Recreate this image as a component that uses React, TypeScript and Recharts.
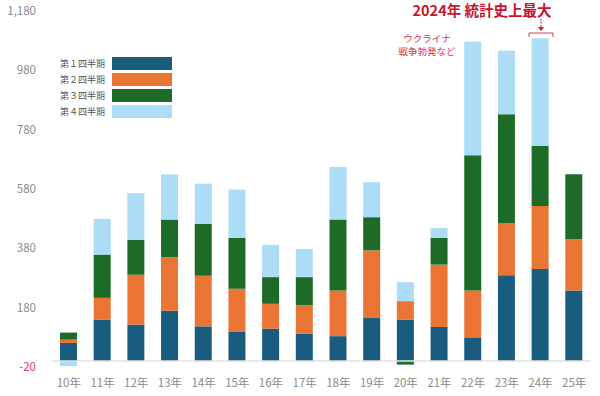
import React from "react";
import { BarChart, Bar, XAxis, YAxis, ReferenceLine } from "recharts";

const categories = ["10年", "11年", "12年", "13年", "14年", "15年", "16年", "17年", "18年", "19年", "20年", "21年", "22年", "23年", "24年", "25年"];
const q1 = [61, 140, 123, 170, 117, 100, 109, 93, 84, 145, 140, 115, 80, 289, 310, 238];
const q2 = [11, 73, 168, 180, 171, 144, 84, 95, 154, 228, 62, 210, 158, 176, 213, 173];
const q3 = [24, 146, 118, 127, 174, 171, 90, 95, 239, 112, -12, 90, 456, 367, 202, 219];
const q4 = [-17, 120, 157, 152, 136, 163, 109, 95, 177, 118, 64, 34, 382, 214, 363, 0];
const seriesNames = ["第１四半期", "第２四半期", "第３四半期", "第４四半期"];
const yTicks = [-20, 180, 380, 580, 780, 980, 1180];

const colors = ["#195c7d", "#ea7434", "#1d6b27", "#acdcf6"];
const FONT = "'Noto Sans CJK JP', 'Noto Sans', sans-serif";

const data = categories.map((c, i) => ({ name: c, q1: q1[i], q2: q2[i], q3: q3[i], q4: q4[i] }));

const YTick = (props: any) => {
  const { x, y, payload } = props;
  const v = payload.value as number;
  const label = v.toLocaleString("en-US");
  return (
    <text x={x} y={y} dy="0.355em" textAnchor="end" fontSize={11.5} fontFamily={FONT} fill={v < 0 ? "#e0405a" : "#8a8a8a"}>
      {label}
    </text>
  );
};

export default function App() {
  return (
    <div style={{ position: "absolute", left: 0, top: 0, width: 600, height: 396, background: "#fff" }}>
      <BarChart
        width={600}
        height={396}
        data={data}
        stackOffset="sign"
        margin={{ top: 11, right: 9, bottom: 9, left: 0 }}
      >
        <XAxis
          dataKey="name"
          axisLine={false}
          tickLine={false}
          tickMargin={6}
          height={20}
          tick={{ fontSize: 11.5, fill: "#8a8a8a", fontFamily: FONT }}
          interval={0}
        />
        <YAxis
          domain={[-20, 1180]}
          ticks={yTicks}
          axisLine={false}
          tickLine={false}
          tickMargin={10}
          width={52}
          tick={<YTick />}
          allowDataOverflow
        />
        <ReferenceLine y={0} stroke="#e2e2e2" strokeWidth={1.5} />
        <Bar dataKey="q1" stackId="a" fill={colors[0]} barSize={17} isAnimationActive={false} />
        <Bar dataKey="q2" stackId="a" fill={colors[1]} barSize={17} isAnimationActive={false} />
        <Bar dataKey="q3" stackId="a" fill={colors[2]} barSize={17} isAnimationActive={false} />
        <Bar dataKey="q4" stackId="a" fill={colors[3]} barSize={17} isAnimationActive={false} />
      </BarChart>

      {seriesNames.map((n, i) => (
        <div key={n} style={{ position: "absolute", left: 40, top: 57 + i * 16, width: 132, height: 13, display: "flex", alignItems: "center" }}>
          <div style={{ width: 65, textAlign: "right", fontSize: 9, color: "#555", fontFamily: FONT, marginRight: 7, whiteSpace: "nowrap" }}>{n}</div>
          <div style={{ width: 60, height: 13, background: colors[i] }} />
        </div>
      ))}

      <svg width={600} height={396} style={{ position: "absolute", left: 0, top: 0, pointerEvents: "none" }}>
        <text x={482} y={16} textAnchor="middle" fontSize={14.5} fontWeight="bold" fill="#c8142c" fontFamily={FONT}>
          2024年 統計史上最大
        </text>
        <line x1={541} y1={19} x2={541} y2={27} stroke="#c8142c" strokeWidth={1.2} strokeDasharray="1.5,1.5" />
        <path d="M538,27 L544,27 L541,31 Z" fill="#c8142c" />
        <path d="M529,37 L529,33 L553,33 L553,37" fill="none" stroke="#d0405a" strokeWidth={1} />
        <text x={427} y={42} textAnchor="middle" fontSize={9.5} fill="#d9364f" fontFamily={FONT}>ウクライナ</text>
        <text x={427} y={55} textAnchor="middle" fontSize={9.5} fill="#d9364f" fontFamily={FONT}>戦争勃発など</text>
      </svg>
    </div>
  );
}
